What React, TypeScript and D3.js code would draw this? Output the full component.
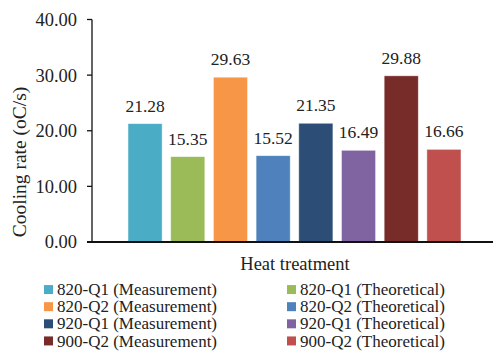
import React from 'react';
import * as d3 from 'd3';

const series = [
  '820-Q1 (Measurement)',
  '820-Q1 (Theoretical)',
  '820-Q2 (Measurement)',
  '820-Q2 (Theoretical)',
  '920-Q1 (Measurement)',
  '920-Q1 (Theoretical)',
  '900-Q2 (Measurement)',
  '900-Q2 (Theoretical)',
];
const values = [21.28, 15.35, 29.63, 15.52, 21.35, 16.49, 29.88, 16.66];
const colors = ['#4BACC6', '#9BBB59', '#F79646', '#4F81BD', '#2C4D75', '#8064A2', '#772C2A', '#C0504D'];
const yTicks = [0, 10, 20, 30, 40];

const W = 493;
const H = 351;
const font = '"Liberation Serif", "Times New Roman", serif';

export default function App() {
  const y = d3.scaleLinear().domain([0, 40]).range([242, 19.5]);
  const x = d3.scaleBand<string>().domain(series).range([128, 461]).paddingInner(0.2).paddingOuter(0);
  const legendRow = d3.scaleBand<number>().domain([0, 1, 2, 3]).range([281, 349.5]);
  const legendCol = [44, 287];

  return (
    <svg width={W} height={H} style={{ position: 'absolute', left: 0, top: 0, background: '#fff' }} fontFamily={font}>
      {/* bars */}
      {series.map((s, i) => (
        <g key={s}>
          <rect
            x={x(s)}
            y={y(values[i])}
            width={x.bandwidth()}
            height={y(0) - y(values[i])}
            fill={colors[i]}
            stroke="#fff"
            strokeOpacity={0.6}
            strokeWidth={0.8}
          />
          <text
            x={(x(s) as number) + x.bandwidth() / 2}
            y={y(values[i]) - 12}
            textAnchor="middle"
            fontSize={17.5}
            fill="#222"
          >
            {values[i].toFixed(2)}
          </text>
        </g>
      ))}

      {/* y axis */}
      <line x1={92} x2={92} y1={y(40)} y2={y(0)} stroke="#111" strokeWidth={1.3} />
      {yTicks.map((t) => (
        <g key={t}>
          <line x1={87} x2={92} y1={y(t)} y2={y(t)} stroke="#111" strokeWidth={1.3} />
          <text x={77} y={y(t)} dy="0.35em" textAnchor="end" fontSize={18.5} fill="#222">
            {t.toFixed(2)}
          </text>
        </g>
      ))}
      {/* x axis */}
      <line x1={87} x2={493} y1={y(0)} y2={y(0)} stroke="#111" strokeWidth={2} />

      <text
        transform={`translate(26,162) rotate(-90)`}
        textAnchor="middle"
        fontSize={19.5}
        fill="#222"
      >
        Cooling rate (oC/s)
      </text>
      <text x={295} y={270} textAnchor="middle" fontSize={18.5} fill="#222">
        Heat treatment
      </text>

      {/* legend */}
      {series.map((s, i) => {
        const col = i % 2;
        const row = Math.floor(i / 2);
        const cy = (legendRow(row) as number) + legendRow.bandwidth() / 2;
        return (
          <g key={'lg' + s}>
            <rect x={legendCol[col]} y={cy - 4.5} width={9} height={9} fill={colors[i]} />
            <text x={legendCol[col] + 13} y={cy} dy="0.33em" fontSize={17} fill="#222">
              {s}
            </text>
          </g>
        );
      })}
    </svg>
  );
}
